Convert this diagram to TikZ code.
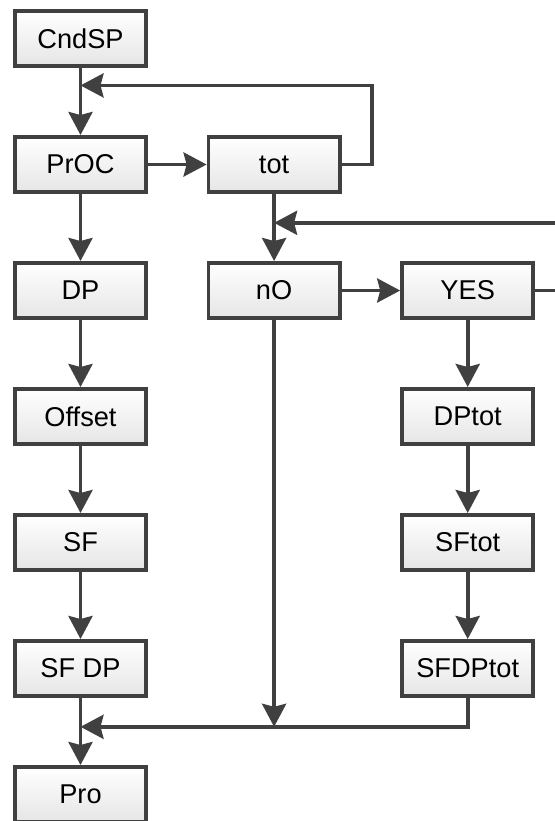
\documentclass[tikz,border=0pt]{standalone}
\usepackage{fontspec}
\setmainfont{Liberation Sans}
\usetikzlibrary{arrows.meta, positioning, calc}
\definecolor{linegray}{HTML}{404040}

\begin{document}
\begin{tikzpicture}[
    node distance=33.5pt and 29.3pt,
    box/.style={rectangle, draw=linegray, line width=1.9pt, top color=white, bottom color=black!10, minimum width=65.6pt, minimum height=27.6pt, inner sep=0pt, font=\fontsize{13.6pt}{16pt}\selectfont},
    arrow/.style={-{Stealth[length=11.5pt, width=12pt, inset=1.5pt]}, line width=1.9pt, draw=linegray}
]
\useasboundingbox (0,0) rectangle (277.5pt,-410.5pt);
\clip (0,0) rectangle (277.5pt,-410.5pt);
% Left column
\node[box] (cndsp) at (40.25pt,-19.25pt) {CndSP};
\node[box, below=of cndsp] (proc) {PrOC};
\node[box, below=of proc] (dp) {DP};
\node[box, below=of dp] (offset) {Offset};
\node[box, below=of offset] (sf) {SF};
\node[box, below=of sf] (sfdp) {SF DP};
\node[box, below=of sfdp] (pro) {Pro};
% Middle column
\node[box, right=of proc] (tot) {tot};
\node[box, right=of dp] (no) {nO};
% Right column
\node[box, right=of no] (yes) {YES};
\node[box, below=of yes] (dptot) {DPtot};
\node[box, below=of dptot] (sftot) {SFtot};
\node[box, below=of sftot] (sfdptot) {SFDPtot};
% Junctions
\coordinate (j1) at ($(cndsp.south)!0.26!(proc.north)$);
\coordinate (j2) at ($(tot.south)!0.43!(no.north)$);
\coordinate (j3) at ($(sfdp.south)!0.43!(pro.north)$);
% Arrows
\draw[arrow] (cndsp) -- (proc);
\draw[arrow] (proc) -- (tot);
\draw[arrow] (tot.east) -- ++(15pt,0) |- (j1);
\draw[arrow] (proc) -- (dp);
\draw[arrow] (dp) -- (offset);
\draw[arrow] (offset) -- (sf);
\draw[arrow] (sf) -- (sfdp);
\draw[arrow] (sfdp) -- (pro);
\draw[arrow] (tot) -- (no);
\draw[arrow] (no) -- (yes);
\draw[arrow] (yes.east) -- ++(20pt,0) |- (j2);
\draw[arrow] (yes) -- (dptot);
\draw[arrow] (dptot) -- (sftot);
\draw[arrow] (sftot) -- (sfdptot);
\draw[arrow] (sfdptot.south) |- (j3);
\draw[arrow] (no.south) -- (no.south |- j3);
\end{tikzpicture}
\end{document}
